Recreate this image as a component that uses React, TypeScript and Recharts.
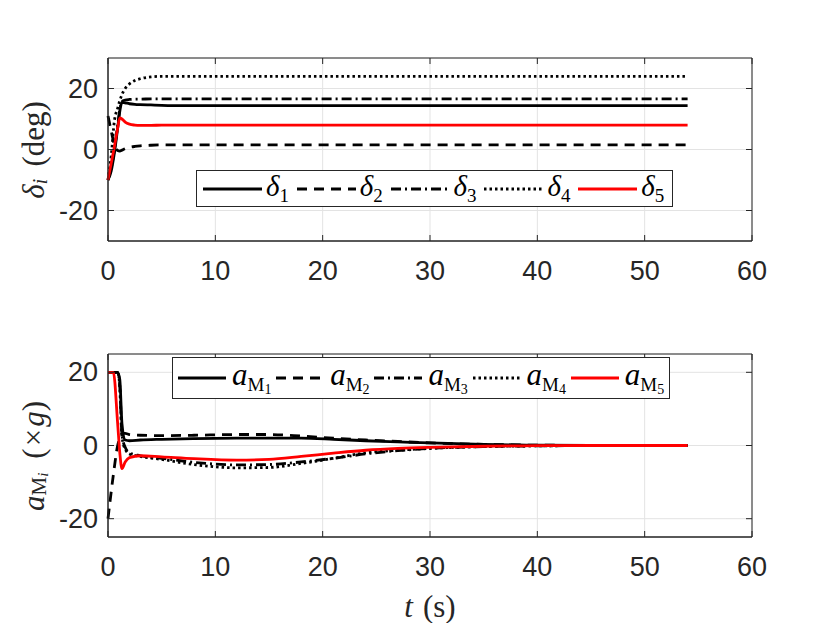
import React from "react";
import {
  LineChart,
  Line,
  XAxis,
  YAxis,
  CartesianGrid,
  ReferenceArea,
  Legend,
} from "recharts";

// time samples (s)
const timeTop = [0, 0.3, 0.6, 0.9, 1.1, 1.3, 1.6, 2, 2.5, 3, 4, 5, 7, 10, 20, 30, 40, 54];
const delta1 = [-10, -7, -1, 7, 12.5, 15.5, 15.3, 15, 14.8, 14.7, 14.6, 14.5, 14.4, 14.4, 14.4, 14.4, 14.4, 14.4];
const delta2 = [11, 6, 1.5, -0.3, -0.5, -0.2, 0.3, 0.7, 1.0, 1.2, 1.4, 1.5, 1.5, 1.5, 1.5, 1.5, 1.5, 1.5];
const delta3 = [-10, -6, 0, 8, 13, 15.8, 16.2, 16.4, 16.5, 16.5, 16.6, 16.6, 16.6, 16.6, 16.6, 16.6, 16.6, 16.6];
const delta4 = [-10, -2, 9.5, 13.5, 16, 18, 20, 21.5, 22.6, 23.2, 23.8, 24, 24, 24, 24, 24, 24, 24];
const delta5 = [-10, -4.5, 1, 7, 10.4, 10, 9, 8.3, 8, 7.9, 7.9, 8, 8, 8, 8, 8, 8, 8];

const timeBottom = [0, 0.5, 0.9, 1.1, 1.3, 1.6, 2, 3, 5, 8, 12, 15, 18, 21, 24, 27, 30, 35, 40, 45, 54];
const aM1 = [20, 20, 20, 18, 6, 1.5, 1.3, 1.5, 1.7, 1.9, 2.0, 2.0, 2.0, 1.7, 1.3, 1.0, 0.7, 0.3, 0.1, 0.03, 0];
const aM2 = [-20, -8, 0, 2, 3.3, 3.3, 3, 2.8, 2.7, 2.8, 3.0, 3.0, 2.6, 2.0, 1.5, 1.1, 0.7, 0.3, 0.1, 0.03, 0];
const aM3 = [20, 20, 20, 16, 3, -0.5, -2, -2.8, -3.5, -4.6, -5.3, -5.2, -4.5, -3.5, -2.3, -1.4, -0.8, -0.3, -0.1, -0.03, 0];
const aM4 = [20, 20, 20, 16, 2.5, -1, -2.3, -3, -3.8, -5.2, -6.1, -6, -4.9, -3.5, -2, -1.3, -0.8, -0.3, -0.1, -0.03, 0];
const aM5 = [20, 20, 6, -2, -6.3, -4.5, -3.3, -2.8, -3.1, -3.6, -4.0, -3.8, -3.0, -2.1, -1.3, -0.8, -0.5, -0.2, -0.05, 0, 0];

const xTicks = [0, 10, 20, 30, 40, 50, 60];
const yTicks = [-20, 0, 20];

const AXIS = "#262626";
const GRID = "#e3e3e3";
const TICK_FONT = "'Liberation Sans', Arial, sans-serif";
const MATH_FONT = "'Liberation Serif', 'Times New Roman', serif";
const LW = 2.8;

const styles = [
  { key: "s1", color: "#000000", dash: undefined },
  { key: "s2", color: "#000000", dash: "10 7" },
  { key: "s3", color: "#000000", dash: "10 4 2 4" },
  { key: "s4", color: "#000000", dash: "2.5 3" },
  { key: "s5", color: "#ff0000", dash: undefined },
];

const topData = timeTop.map((t, i) => ({
  t,
  s1: delta1[i],
  s2: delta2[i],
  s3: delta3[i],
  s4: delta4[i],
  s5: delta5[i],
}));

const bottomData = timeBottom.map((t, i) => ({
  t,
  s1: aM1[i],
  s2: aM2[i],
  s3: aM3[i],
  s4: aM4[i],
  s5: aM5[i],
}));

const PLOT_W = 644;
const PLOT_H = 183;

function XTick(props: any) {
  const { x, y, payload } = props;
  return (
    <g>
      <line x1={x} y1={y} x2={x} y2={y - 6} stroke={AXIS} />
      <line x1={x} y1={y - PLOT_H} x2={x} y2={y - PLOT_H + 6} stroke={AXIS} />
      <text
        x={x}
        y={y + 30}
        textAnchor="middle"
        dominantBaseline="central"
        fontFamily={TICK_FONT}
        fontSize={27}
        fill={AXIS}
      >
        {payload.value}
      </text>
    </g>
  );
}

function YTick(props: any) {
  const { x, y, payload } = props;
  return (
    <g>
      <line x1={x} y1={y} x2={x + 6} y2={y} stroke={AXIS} />
      <line x1={x + PLOT_W} y1={y} x2={x + PLOT_W - 6} y2={y} stroke={AXIS} />
      <text
        x={x - 10}
        y={y}
        textAnchor="end"
        dominantBaseline="central"
        fontFamily={TICK_FONT}
        fontSize={27}
        fill={AXIS}
      >
        {payload.value}
      </text>
    </g>
  );
}

function DeltaLegend() {
  return (
    <div
      style={{
        width: 477,
        height: 37,
        boxSizing: "border-box",
        border: `1px solid ${AXIS}`,
        background: "#fff",
        display: "flex",
        alignItems: "center",
        paddingLeft: 6,
      }}
    >
      {styles.map((s, i) => (
        <div key={s.key} style={{ width: 94, display: "flex", alignItems: "center" }}>
          <svg width={59} height={10}>
            <line x1={0} y1={5} x2={59} y2={5} stroke={s.color} strokeWidth={LW} strokeDasharray={s.dash} />
          </svg>
          <span style={{ fontFamily: MATH_FONT, fontSize: 29, marginLeft: 4, color: "#000", lineHeight: 1 }}>
            <i>δ</i>
            <sub style={{ fontSize: 19, verticalAlign: -6 }}>{i + 1}</sub>
          </span>
        </div>
      ))}
    </div>
  );
}

function AccelLegend() {
  return (
    <div
      style={{
        width: 498,
        height: 42,
        boxSizing: "border-box",
        border: `1px solid ${AXIS}`,
        background: "#fff",
        display: "flex",
        alignItems: "center",
        paddingLeft: 5,
      }}
    >
      {styles.map((s, i) => (
        <div key={s.key} style={{ width: 98.5, display: "flex", alignItems: "center" }}>
          <svg width={48} height={10}>
            <line x1={0} y1={5} x2={48} y2={5} stroke={s.color} strokeWidth={LW} strokeDasharray={s.dash} />
          </svg>
          <span style={{ fontFamily: MATH_FONT, fontSize: 31, marginLeft: 6, color: "#000", lineHeight: 1 }}>
            <i>a</i>
            <sub style={{ fontSize: 19, verticalAlign: -6 }}>
              M<sub style={{ fontSize: 14, verticalAlign: -3 }}>{i + 1}</sub>
            </sub>
          </span>
        </div>
      ))}
    </div>
  );
}

function DeltaLabel() {
  return (
    <text
      transform="rotate(-90, 33, 150)"
      x={33}
      y={150}
      textAnchor="middle"
      dominantBaseline="central"
      fontFamily={MATH_FONT}
      fontSize={31}
      fill={AXIS}
    >
      <tspan fontStyle="italic">δ</tspan>
      <tspan fontStyle="italic" fontSize={21} dy={7}>i</tspan>
      <tspan dy={-7} dx={12}>(deg)</tspan>
    </text>
  );
}

function AccelLabel() {
  return (
    <text
      transform="rotate(-90, 33, 156)"
      x={33}
      y={156}
      textAnchor="middle"
      dominantBaseline="central"
      fontFamily={MATH_FONT}
      fontSize={31}
      fill={AXIS}
    >
      <tspan fontStyle="italic">a</tspan>
      <tspan fontSize={21} dy={6}>M</tspan>
      <tspan fontStyle="italic" fontSize={15} dy={4}>i</tspan>
      <tspan dy={-10} dx={14}>(</tspan>
      <tspan dx={2}>×</tspan>
      <tspan fontStyle="italic" dx={2}>g</tspan>
      <tspan>)</tspan>
    </text>
  );
}

function TimeLabel() {
  return (
    <text
      x={430}
      y={306}
      textAnchor="middle"
      dominantBaseline="central"
      fontFamily={MATH_FONT}
      fontSize={31}
      fill={AXIS}
    >
      <tspan fontStyle="italic">t</tspan>
      <tspan dx={10}>(s)</tspan>
    </text>
  );
}

function Lines() {
  return styles.map((s) => (
    <Line
      key={s.key}
      dataKey={s.key}
      type="monotone"
      stroke={s.color}
      strokeWidth={LW}
      strokeDasharray={s.dash}
      dot={false}
      activeDot={false}
      isAnimationActive={false}
    />
  ));
}

export default function App() {
  return (
    <div style={{ position: "absolute", left: 0, top: 0, width: 830, height: 623, background: "#fff" }}>
      <div style={{ position: "absolute", left: 0, top: 0 }}>
        <LineChart width={830} height={300} data={topData} margin={{ top: 58, right: 78, left: 48, bottom: 19 }}>
          <CartesianGrid stroke={GRID} />
          <XAxis
            dataKey="t"
            type="number"
            domain={[0, 60]}
            ticks={xTicks}
            height={40}
            tickSize={0}
            tickMargin={0}
            tickLine={false}
            axisLine={{ stroke: AXIS }}
            tick={<XTick />}
          />
          <YAxis
            type="number"
            domain={[-30, 30]}
            ticks={yTicks}
            width={60}
            tickSize={0}
            tickMargin={0}
            tickLine={false}
            axisLine={{ stroke: AXIS }}
            tick={<YTick />}
            label={{ content: () => <DeltaLabel /> }}
          />
          <ReferenceArea x1={0} x2={60} y1={-30} y2={30} fill="none" stroke={AXIS} strokeOpacity={1} />
          {Lines()}
          <Legend
            layout="horizontal"
            verticalAlign="middle"
            align="center"
            wrapperStyle={{ position: "absolute", left: 196, top: 170, width: 477 }}
            content={() => <DeltaLegend />}
          />
        </LineChart>
      </div>
      <div style={{ position: "absolute", left: 0, top: 300 }}>
        <LineChart width={830} height={323} data={bottomData} margin={{ top: 54, right: 78, left: 48, bottom: 46 }}>
          <CartesianGrid stroke={GRID} />
          <XAxis
            dataKey="t"
            type="number"
            domain={[0, 60]}
            ticks={xTicks}
            height={40}
            tickSize={0}
            tickMargin={0}
            tickLine={false}
            axisLine={{ stroke: AXIS }}
            tick={<XTick />}
            label={{ content: () => <TimeLabel /> }}
          />
          <YAxis
            type="number"
            domain={[-25, 25]}
            ticks={yTicks}
            width={60}
            tickSize={0}
            tickMargin={0}
            tickLine={false}
            axisLine={{ stroke: AXIS }}
            tick={<YTick />}
            label={{ content: () => <AccelLabel /> }}
          />
          <ReferenceArea x1={0} x2={60} y1={-25} y2={25} fill="none" stroke={AXIS} strokeOpacity={1} />
          {Lines()}
          <Legend
            layout="horizontal"
            verticalAlign="middle"
            align="center"
            wrapperStyle={{ position: "absolute", left: 172, top: 57, width: 498 }}
            content={() => <AccelLegend />}
          />
        </LineChart>
      </div>
    </div>
  );
}
